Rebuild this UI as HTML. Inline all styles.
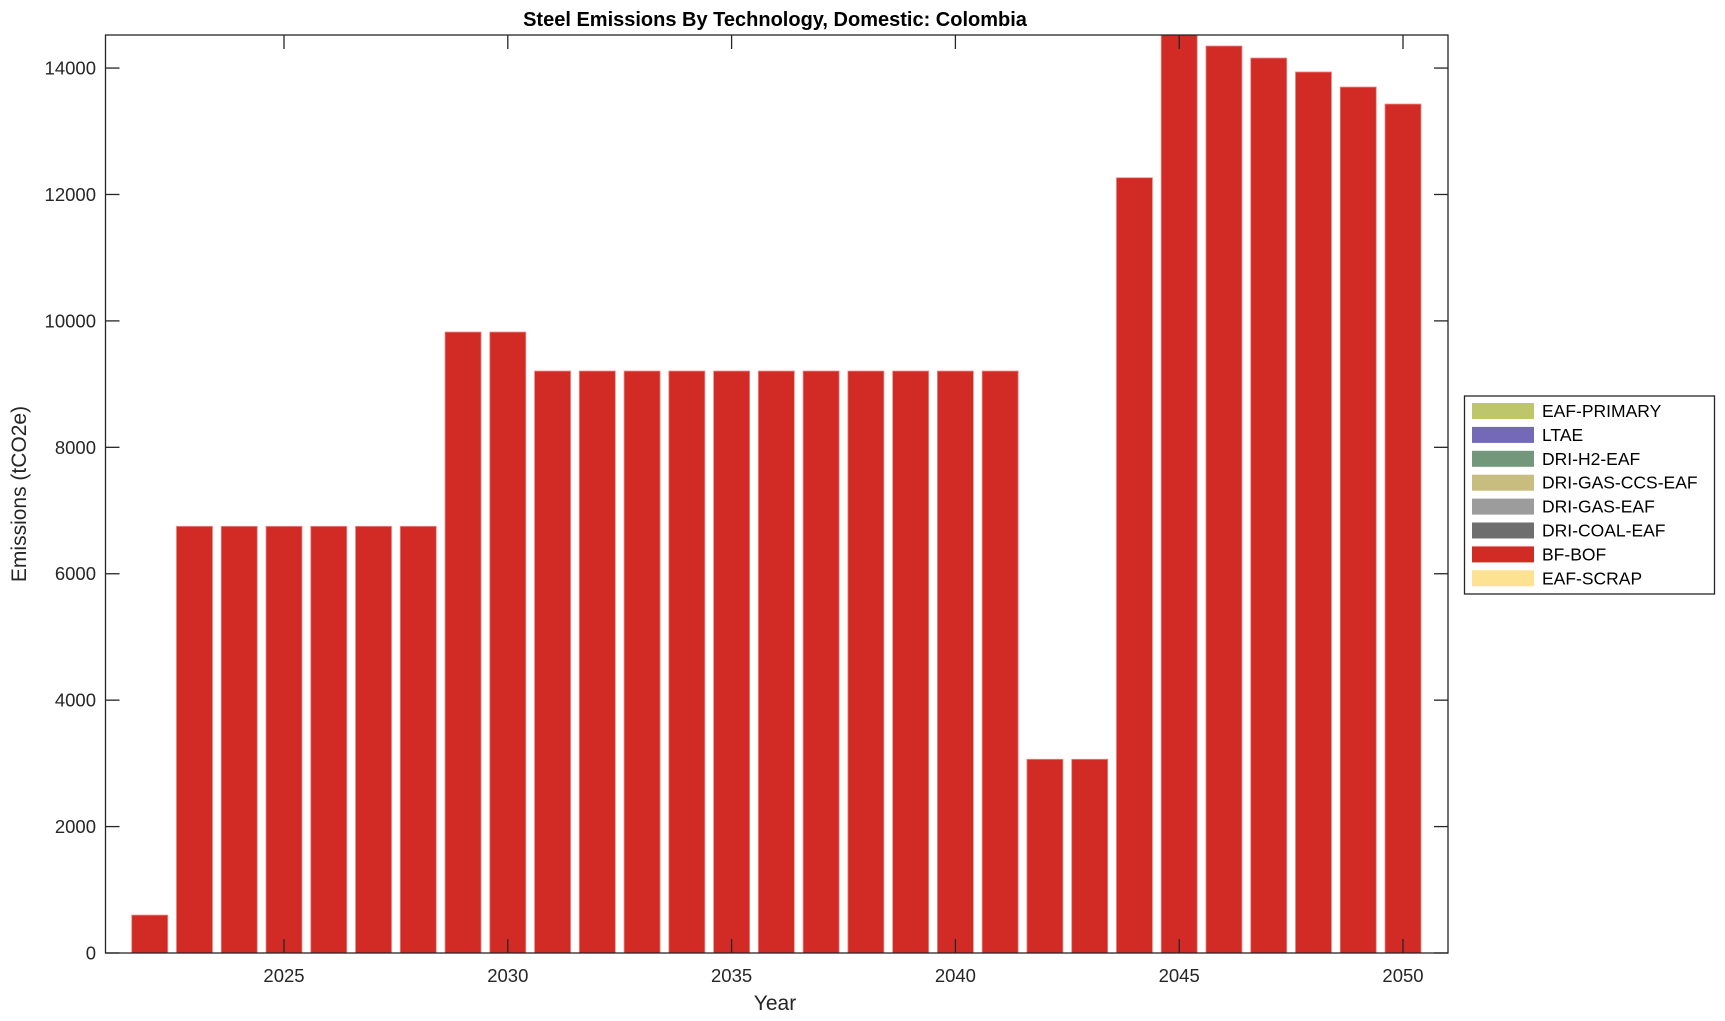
<!DOCTYPE html>
<html><head><meta charset="utf-8"><style>html,body{margin:0;padding:0;background:#fff}svg{display:block}</style></head>
<body>
<svg xmlns="http://www.w3.org/2000/svg" width="1725" height="1021" viewBox="0 0 1725 1021" font-family="Liberation Sans, Arial, sans-serif">
<rect width="1725" height="1021" fill="#fff"/>
<g id="bars" fill="#d22b25" stroke="#e88a86" stroke-width="0.8"></g>
<g stroke="#262626" stroke-width="1.3" fill="none">
<rect x="105.5" y="35" width="1342.5" height="918"/>
<g id="ticks"></g>
</g>
<g id="labels" fill="#262626" font-size="18.5"></g>
<text x="775" y="26" text-anchor="middle" font-weight="bold" font-size="20" fill="#000">Steel Emissions By Technology, Domestic: Colombia</text>
<text x="775" y="1010" text-anchor="middle" font-size="21" fill="#262626">Year</text>
<text transform="translate(26,494) rotate(-90)" text-anchor="middle" font-size="21" fill="#262626">Emissions (tCO2e)</text>
<rect x="1464.5" y="396" width="250" height="198" fill="#fff" stroke="#262626" stroke-width="1.3"/>
<g id="leg" font-size="17.5" fill="#000"></g>
<script>
var ns="http://www.w3.org/2000/svg";
function el(p,t,a,txt){var e=document.createElementNS(ns,t);for(var k in a)e.setAttribute(k,a[k]);if(txt)e.textContent=txt;p.appendChild(e);return e;}
var vals=[600,6750,6750,6750,6750,6750,6750,9824,9824,9207,9207,9207,9207,9207,9207,9207,9207,9207,9207,9207,3065,3065,12265,14600,14349,14159,13938,13700,13431];
var X=function(y){return 284+(y-2025)*44.76;};
var Y=function(v){return 953-v*0.06321;};
var b=document.getElementById('bars');
vals.forEach(function(v,i){var yr=2022+i;var top=Math.max(Y(v),35);el(b,'rect',{x:X(yr)-18,y:top,width:36,height:953-top});});
var t=document.getElementById('ticks'),l=document.getElementById('labels');
for(var yr=2025;yr<=2050;yr+=5){var x=X(yr);el(t,'line',{x1:x,y1:953,x2:x,y2:939});el(t,'line',{x1:x,y1:35,x2:x,y2:49});el(l,'text',{x:x,y:982,'text-anchor':'middle'},String(yr));}
for(var v=0;v<=14000;v+=2000){var y=Y(v);el(t,'line',{x1:105.5,y1:y,x2:119.5,y2:y});el(t,'line',{x1:1448,y1:y,x2:1434,y2:y});el(l,'text',{x:96,y:y+6.5,'text-anchor':'end'},String(v));}
var items=[["EAF-PRIMARY","#bdc66a"],["LTAE","#7369b8"],["DRI-H2-EAF","#72977b"],["DRI-GAS-CCS-EAF","#c6bd7e"],["DRI-GAS-EAF","#9c9c9c"],["DRI-COAL-EAF","#6e6e6e"],["BF-BOF","#d22b25"],["EAF-SCRAP","#fde391"]];
var lg=document.getElementById('leg');
items.forEach(function(it,i){var cy=411+i*23.9;el(lg,'rect',{x:1472,y:cy-8,width:62,height:16,fill:it[1]});el(lg,'text',{x:1542,y:cy+6},it[0]);});
</script>
</svg>
</body></html>
